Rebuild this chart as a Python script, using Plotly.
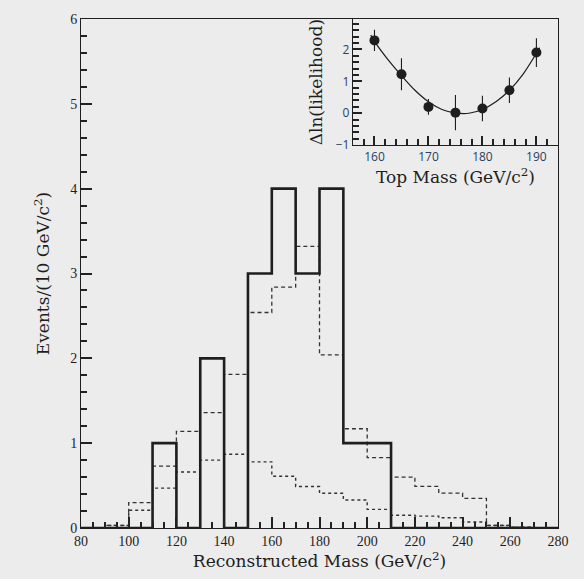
import plotly.graph_objects as go

# ---------------- data ----------------
bin_edges = [80, 90, 100, 110, 120, 130, 140, 150, 160, 170, 180, 190, 200, 210,
             220, 230, 240, 250, 260, 270, 280]
data_counts = [0, 0, 0, 1, 0, 2, 0, 3, 4, 3, 4, 1, 1, 0, 0, 0, 0, 0, 0, 0]
total_expected = [0.0, 0.03, 0.30, 0.73, 1.14, 1.36, 1.81, 2.54, 2.84, 3.32, 2.04,
                  1.17, 0.83, 0.60, 0.49, 0.41, 0.35, 0.03, 0.01, 0.0]
background = [0.0, 0.03, 0.21, 0.47, 0.66, 0.80, 0.87, 0.78, 0.61, 0.49, 0.41,
              0.33, 0.22, 0.15, 0.14, 0.12, 0.07, 0.03, 0.01, 0.0]

top_mass = [160, 165, 170, 175, 180, 185, 190]
dlnl = [2.28, 1.22, 0.20, 0.02, 0.15, 0.72, 1.90]
dlnl_err = [0.33, 0.50, 0.25, 0.55, 0.40, 0.40, 0.45]

fit_mass = [159.3, 160, 162.5, 165, 167.5, 170, 172.5, 175, 177.5, 180, 182.5,
            185, 187.5, 190, 190.6]
fit_dlnl = [2.45, 2.25, 1.68, 1.18, 0.72, 0.36, 0.12, 0.01, 0.0, 0.12, 0.36,
            0.72, 1.22, 1.88, 2.05]

BG = "#ececec"
INK = "#1e1e1e"
FONT = "Liberation Serif"
TFONT = "DejaVu Serif"


def step(vals):
    return list(bin_edges), list(vals) + [vals[-1]]


fig = go.Figure()

xb, yb = step(background)
fig.add_trace(go.Scatter(x=xb, y=yb, mode="lines", line_shape="hv",
                         line=dict(color="#333", width=1.4, dash="dot"),
                         showlegend=False))
xt, yt = step(total_expected)
fig.add_trace(go.Scatter(x=xt, y=yt, mode="lines", line_shape="hv",
                         line=dict(color="#333", width=1.3, dash="4px,3px"),
                         showlegend=False))
xd, yd = step(data_counts)
fig.add_trace(go.Scatter(x=xd, y=yd, mode="lines", line_shape="hv",
                         line=dict(color=INK, width=2.6), showlegend=False))

# inset
fig.add_trace(go.Scatter(x=fit_mass, y=fit_dlnl, mode="lines", line_shape="spline",
                         line=dict(color=INK, width=1.2),
                         xaxis="x2", yaxis="y2", showlegend=False))
fig.add_trace(go.Scatter(x=top_mass, y=dlnl, mode="markers",
                         marker=dict(color=INK, size=10),
                         error_y=dict(type="data", array=dlnl_err, color=INK,
                                      thickness=1.1, width=0),
                         xaxis="x2", yaxis="y2", showlegend=False))

tickfont = dict(family=FONT, size=14, color=INK)
titlefont = dict(family=TFONT, size=17, color=INK)


def axis_style(tick0, dtick, minor_dtick, ticklen, title, standoff):
    return dict(tickmode="linear", tick0=tick0, dtick=dtick, ticks="inside",
                ticklen=ticklen, tickwidth=2, tickcolor="#222222", showline=True,
                mirror=True, linecolor=INK, showgrid=False, zeroline=False,
                title=dict(text=title, font=titlefont, standoff=standoff),
                minor=dict(dtick=minor_dtick, ticks="inside", ticklen=6,
                           tickcolor="#222222", tickwidth=2))


xa = axis_style(80, 20, 5, 11, "Reconstructed Mass (GeV/c<sup>2</sup>)", 6)
xa.update(range=[80, 280], tickfont=tickfont)
ya = axis_style(0, 1, 0.2, 11, "Events/(10 GeV/c<sup>2</sup>)", 16)
ya.update(range=[0, 6], tickfont=tickfont)
xa2 = axis_style(160, 10, 2, 9, "Top Mass (GeV/c<sup>2</sup>)", 4)
xa2.update(domain=[0.570, 1.0], anchor="y2", range=[156, 194])
ya2 = axis_style(-1, 1, 0.2, 9, "Δln(likelihood)", 8)
ya2.update(domain=[0.752, 1.0], anchor="x2", range=[-1, 2.95])

fig.update_layout(
    width=584, height=579,
    margin=dict(l=81, r=26, t=15, b=47),
    paper_bgcolor=BG, plot_bgcolor=BG,
    xaxis=xa, yaxis=ya, xaxis2=xa2, yaxis2=ya2,
)

fig.write_html("out.html")
